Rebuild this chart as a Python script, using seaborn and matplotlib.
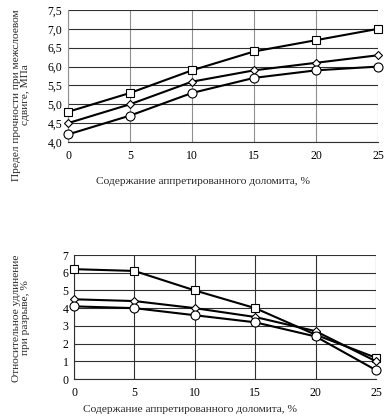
import matplotlib
matplotlib.use("Agg")
import matplotlib.pyplot as plt
import seaborn as sns
import pandas as pd
from matplotlib.ticker import FuncFormatter

sns.set_theme(style="white")
plt.rcParams['font.family'] = ['Liberation Serif', 'DejaVu Serif']

x = [0, 5, 10, 15, 20, 25]

shear_sq = [4.8, 5.3, 5.9, 6.4, 6.7, 7.0]
shear_di = [4.5, 5.0, 5.6, 5.9, 6.1, 6.3]
shear_ci = [4.2, 4.7, 5.3, 5.7, 5.9, 6.0]

elong_sq = [6.2, 6.1, 5.0, 4.0, 2.5, 1.2]
elong_di = [4.5, 4.4, 4.0, 3.5, 2.7, 1.0]
elong_ci = [4.1, 4.0, 3.6, 3.2, 2.4, 0.5]

xlabel = "Содержание аппретированного доломита, %"
ylabel_top = "Предел прочности при межслоевом\nсдвиге, МПа"
ylabel_bot = "Относительное удлинение\nпри разрыве, %"

fig = plt.figure(figsize=(3.88, 4.2), dpi=100)
W, H = 388, 420
ax1 = fig.add_axes([68 / W, 1 - 142 / H, (378 - 68) / W, (142 - 10) / H])
ax2 = fig.add_axes([74 / W, 1 - 379 / H, (376 - 74) / W, (379 - 255) / H])

fs = 8.5
lfs = 8.2
comma = FuncFormatter(lambda v, p: f"{v:.1f}".replace(".", ","))

def draw(ax, series, ylim, yticks, ylabel, fmt, vgrid_color, left_color):
    for vals, mk, ms in series:
        df = pd.DataFrame({"x": x, "y": vals})
        sns.lineplot(data=df, x="x", y="y", ax=ax, color="black", linewidth=1.5,
                     marker=mk, markersize=ms, markerfacecolor="white",
                     markeredgecolor="black", markeredgewidth=0.8, zorder=3)
    ax.set_xlim(0, 25)
    ax.set_ylim(*ylim)
    ax.set_xticks(x)
    ax.set_yticks(yticks)
    if fmt is not None:
        ax.yaxis.set_major_formatter(fmt)
    ax.grid(axis="y", color="#303030", linewidth=0.8)
    ax.grid(axis="x", color=vgrid_color, linewidth=0.8)
    ax.set_axisbelow(True)
    for s in ["top", "right"]:
        ax.spines[s].set_visible(False)
    ax.spines["left"].set_color(left_color)
    ax.spines["left"].set_linewidth(0.8)
    ax.spines["bottom"].set_color("#303030")
    ax.spines["bottom"].set_linewidth(0.8)
    ax.tick_params(axis="both", length=0, labelsize=fs, colors="black")
    ax.tick_params(axis="x", pad=6)
    ax.tick_params(axis="y", pad=4)
    ax.set_ylabel(ylabel, fontsize=lfs, linespacing=1.05)
    for m in ax.lines:
        m.set_clip_on(False)

draw(ax1, [(shear_sq, "s", 6), (shear_di, "D", 4.5), (shear_ci, "o", 6.5)],
     (4.0, 7.5), [4.0, 4.5, 5.0, 5.5, 6.0, 6.5, 7.0, 7.5], ylabel_top, comma,
     "#909090", "#909090")
draw(ax2, [(elong_sq, "s", 6), (elong_di, "D", 4.5), (elong_ci, "o", 6.5)],
     (0, 7), list(range(0, 8)), ylabel_bot, None, "#303030", "#303030")

ax1.set_xlabel(xlabel, fontsize=lfs)
ax2.set_xlabel(xlabel, fontsize=lfs)
ax1.xaxis.set_label_coords((203 - 68) / 310, (142 - 181) / 132)
ax2.xaxis.set_label_coords((190 - 74) / 302, (379 - 410) / 124)
ax1.yaxis.set_label_coords((21 - 68) / 310, (142 - 95) / 132)
ax2.yaxis.set_label_coords((21 - 74) / 302, (379 - 318) / 124)
ax1.yaxis.label.set_va("center")
ax2.yaxis.label.set_va("center")
ax1.xaxis.label.set_va("center")
ax2.xaxis.label.set_va("center")

fig.savefig("out.png", dpi=100)
